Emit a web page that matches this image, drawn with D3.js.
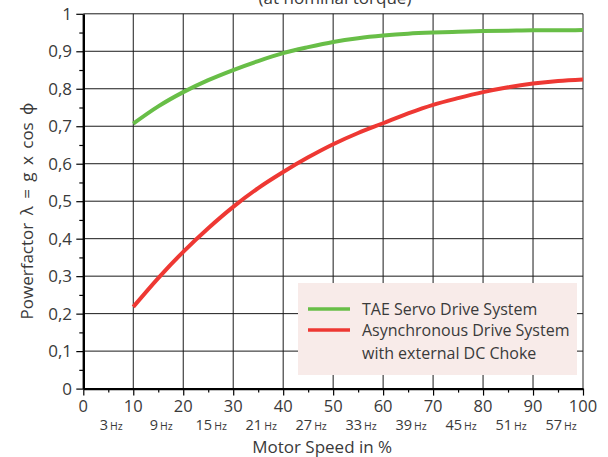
<!DOCTYPE html>
<html>
<head>
<meta charset="utf-8">
<script src="https://cdn.jsdelivr.net/npm/d3@7"></script>
<style>
  html, body { margin: 0; padding: 0; background: #fff; }
  svg { display: block; }
  text { font-family: "Open Sans", "Noto Sans", sans-serif; fill: #3a3a3a; }
</style>
</head>
<body>
<svg id="chart" width="608" height="457"></svg>
<script>
// ---- data ----
const speeds = [10, 15, 20, 25, 30, 35, 40, 45, 50, 55, 60, 65, 70, 75, 80, 85, 90, 95, 100];
const taeServo = [0.707, 0.753, 0.791, 0.823, 0.850, 0.874, 0.895, 0.911, 0.925, 0.935, 0.942, 0.947, 0.950, 0.952, 0.954, 0.955, 0.956, 0.956, 0.957];
const asyncDrive = [0.218, 0.295, 0.365, 0.428, 0.485, 0.535, 0.578, 0.617, 0.652, 0.682, 0.708, 0.734, 0.757, 0.775, 0.791, 0.804, 0.814, 0.821, 0.825];
const xTicks = [0, 10, 20, 30, 40, 50, 60, 70, 80, 90, 100];
const yTicks = [0, 0.1, 0.2, 0.3, 0.4, 0.5, 0.6, 0.7, 0.8, 0.9, 1];
const yTickLabels = ["0", "0,1", "0,2", "0,3", "0,4", "0,5", "0,6", "0,7", "0,8", "0,9", "1"];
const hzPositions = [5, 15, 25, 35, 45, 55, 65, 75, 85, 95];
const hzLabels = ["3", "9", "15", "21", "27", "33", "39", "45", "51", "57"];
const seriesNames = ["TAE Servo Drive System", "Asynchronous Drive System", "with external DC Choke"];
const seriesColors = ["#68be47", "#ee3833"];

// ---- layout ----
const svg = d3.select("#chart");
const x = d3.scaleLinear().domain([0, 100]).range([83.3, 583]);
const y = d3.scaleLinear().domain([0, 1]).range([388.6, 13.8]);

// grid
const grid = svg.append("g");
grid.selectAll("line.v").data(xTicks.slice(1)).join("line")
  .attr("x1", d => x(d)).attr("x2", d => x(d))
  .attr("y1", y(1)).attr("y2", y(0))
  .attr("stroke", d => d === 100 ? "#777" : "#1a1a1a")
  .attr("stroke-width", d => d === 100 ? 1.6 : 1);
grid.selectAll("line.h").data(yTicks.slice(1)).join("line")
  .attr("x1", x(0)).attr("x2", x(100))
  .attr("y1", d => y(d)).attr("y2", d => y(d))
  .attr("stroke", "#1a1a1a").attr("stroke-width", 1);

// axes
const xAxis = d3.axisBottom(x).tickValues(d3.range(0, 101, 5)).tickFormat("")
  .tickSizeInner(0).tickSizeOuter(0);
const gx = svg.append("g").attr("transform", `translate(0,${y(0)})`).call(xAxis);
gx.select(".domain").attr("stroke", "#000").attr("stroke-width", 2.2);
gx.selectAll(".tick line").attr("stroke", "#000").attr("stroke-width", 1.2)
  .attr("y2", d => d % 10 === 0 ? 7 : 4);

const yAxis = d3.axisLeft(y).tickValues(d3.range(0, 21).map(i => i / 20)).tickFormat("")
  .tickSizeInner(0).tickSizeOuter(0);
const gy = svg.append("g").attr("transform", `translate(${x(0)},0)`).call(yAxis);
gy.select(".domain").attr("stroke", "#000").attr("stroke-width", 2.4);
gy.selectAll(".tick line").attr("stroke", "#000").attr("stroke-width", 1.2)
  .attr("x2", (d, i) => i % 2 === 0 ? -7 : -4);

// tick labels
svg.append("g").selectAll("text").data(xTicks).join("text")
  .attr("x", d => x(d)).attr("y", 412)
  .attr("text-anchor", "middle").attr("font-size", 16.5)
  .text(d => d);
svg.append("g").selectAll("text").data(yTicks).join("text")
  .attr("x", 72).attr("y", d => y(d) + 6)
  .attr("text-anchor", "end").attr("font-size", 17)
  .text((d, i) => yTickLabels[i]);

const hz = svg.append("g").selectAll("text").data(hzPositions).join("text")
  .attr("x", d => x(d) + 3).attr("y", 430)
  .attr("text-anchor", "middle");
hz.append("tspan").attr("font-size", 14.5).text((d, i) => hzLabels[i]);
hz.append("tspan").attr("font-size", 10.5).attr("dx", 2).text("Hz");

// axis titles
svg.append("text").attr("x", x(50) - 11).attr("y", 453)
  .attr("text-anchor", "middle").attr("font-size", 17)
  .text("Motor Speed in %");
svg.append("text")
  .attr("transform", `translate(33,${211}) rotate(-90)`)
  .attr("text-anchor", "middle").attr("font-size", 17)
  .attr("word-spacing", 3)
  .text("Powerfactor λ = g x cos ϕ");
svg.append("text").attr("x", 335).attr("y", 4)
  .attr("text-anchor", "middle").attr("font-size", 17)
  .text("(at nominal torque)");

// curves
const line = d3.line().x(d => x(d[0])).y(d => y(d[1])).curve(d3.curveMonotoneX);
[taeServo, asyncDrive].forEach((vals, i) => {
  svg.append("path")
    .datum(speeds.map((s, j) => [s, vals[j]]))
    .attr("d", line)
    .attr("fill", "none")
    .attr("stroke", seriesColors[i])
    .attr("stroke-width", 4);
});

// legend
const lg = svg.append("g");
lg.append("rect").attr("x", 298).attr("y", 283).attr("width", 279).attr("height", 92)
  .attr("fill", "#f8ebe9");
[309, 330].forEach((ly, i) => {
  lg.append("line").attr("x1", 308).attr("x2", 350).attr("y1", ly).attr("y2", ly)
    .attr("stroke", seriesColors[i]).attr("stroke-width", 3.5);
});
[314.5, 336, 359].forEach((ly, i) => {
  lg.append("text").attr("x", 362).attr("y", ly).attr("font-size", 16)
    .text(seriesNames[i]);
});
</script>
</body>
</html>
